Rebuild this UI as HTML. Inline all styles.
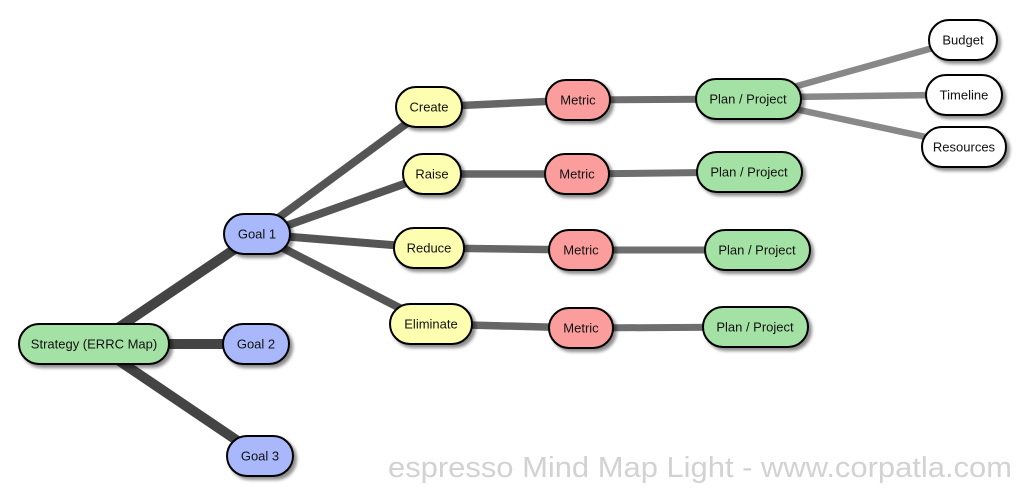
<!DOCTYPE html>
<html><head><meta charset="utf-8"><style>
html,body{margin:0;padding:0;background:#fff;width:1024px;height:497px;overflow:hidden}
svg text{font-family:"Liberation Sans",sans-serif;font-size:13px;fill:#111;text-anchor:middle;dominant-baseline:central}
</style></head><body>
<svg width="1024" height="497" xmlns="http://www.w3.org/2000/svg">
<defs><filter id="sh" x="-20%" y="-30%" width="150%" height="180%"><feDropShadow dx="3" dy="3" stdDeviation="1.5" flood-color="#000" flood-opacity="0.45"/></filter></defs>
<g stroke-linecap="butt" fill="none">
<line x1="115" y1="330" x2="257" y2="234" stroke="#444" stroke-width="10"/>
<line x1="140" y1="344" x2="256" y2="344" stroke="#444" stroke-width="10"/>
<line x1="115" y1="358" x2="260" y2="456" stroke="#444" stroke-width="10"/>
<line x1="270" y1="224" x2="429" y2="107" stroke="#555" stroke-width="8"/>
<line x1="280" y1="228" x2="432" y2="174" stroke="#555" stroke-width="8"/>
<line x1="280" y1="236" x2="429" y2="248" stroke="#555" stroke-width="8"/>
<line x1="275" y1="244" x2="431" y2="324" stroke="#555" stroke-width="8"/>
<line x1="429" y1="107" x2="578" y2="100" stroke="#666" stroke-width="7.5"/>
<line x1="432" y1="174" x2="577" y2="174" stroke="#666" stroke-width="7.5"/>
<line x1="429" y1="248" x2="581" y2="250" stroke="#666" stroke-width="7.5"/>
<line x1="431" y1="324" x2="581" y2="328" stroke="#666" stroke-width="7.5"/>
<line x1="578" y1="100" x2="748" y2="99" stroke="#6e6e6e" stroke-width="7"/>
<line x1="577" y1="174" x2="749" y2="172" stroke="#6e6e6e" stroke-width="7"/>
<line x1="581" y1="250" x2="757" y2="250" stroke="#6e6e6e" stroke-width="7"/>
<line x1="581" y1="328" x2="755" y2="327" stroke="#6e6e6e" stroke-width="7"/>
<line x1="790" y1="88" x2="940" y2="46" stroke="#888" stroke-width="6.5"/>
<line x1="790" y1="97" x2="940" y2="95" stroke="#888" stroke-width="6.5"/>
<line x1="790" y1="108" x2="940" y2="140" stroke="#888" stroke-width="6.5"/>
</g>
<g stroke="#000" stroke-width="2" filter="url(#sh)">
<rect x="19" y="324" width="150" height="40" rx="20" fill="#a4e1a4"/>
<rect x="224" y="214" width="66" height="40" rx="20" fill="#a8b8fa"/>
<rect x="223" y="324" width="66" height="40" rx="20" fill="#a8b8fa"/>
<rect x="227" y="436" width="66" height="40" rx="20" fill="#a8b8fa"/>
<rect x="396" y="87" width="66" height="40" rx="20" fill="#fefeb0"/>
<rect x="403" y="154" width="58" height="40" rx="20" fill="#fefeb0"/>
<rect x="394" y="228" width="70" height="40" rx="20" fill="#fefeb0"/>
<rect x="390" y="304" width="82" height="40" rx="20" fill="#fefeb0"/>
<rect x="546" y="80" width="64" height="40" rx="20" fill="#fc9d9d"/>
<rect x="545" y="154" width="64" height="40" rx="20" fill="#fc9d9d"/>
<rect x="549" y="230" width="64" height="40" rx="20" fill="#fc9d9d"/>
<rect x="549" y="308" width="64" height="40" rx="20" fill="#fc9d9d"/>
<rect x="696" y="79" width="105" height="40" rx="20" fill="#a4e1a4"/>
<rect x="697" y="152" width="105" height="40" rx="20" fill="#a4e1a4"/>
<rect x="705" y="230" width="105" height="40" rx="20" fill="#a4e1a4"/>
<rect x="703" y="307" width="105" height="40" rx="20" fill="#a4e1a4"/>
<rect x="929" y="20" width="68" height="40" rx="20" fill="#fff"/>
<rect x="926" y="75" width="76" height="40" rx="20" fill="#fff"/>
<rect x="922" y="127" width="84" height="40" rx="20" fill="#fff"/>
</g>
<text x="94" y="344">Strategy (ERRC Map)</text>
<text x="257" y="234">Goal 1</text>
<text x="256" y="344">Goal 2</text>
<text x="260" y="456">Goal 3</text>
<text x="429" y="107">Create</text>
<text x="432" y="174">Raise</text>
<text x="429" y="248">Reduce</text>
<text x="431" y="324">Eliminate</text>
<text x="578" y="100">Metric</text>
<text x="577" y="174">Metric</text>
<text x="581" y="250">Metric</text>
<text x="581" y="328">Metric</text>
<text x="748" y="99">Plan / Project</text>
<text x="749" y="172">Plan / Project</text>
<text x="757" y="250">Plan / Project</text>
<text x="755" y="327">Plan / Project</text>
<text x="963" y="40">Budget</text>
<text x="964" y="95">Timeline</text>
<text x="964" y="147">Resources</text>
<text x="388" y="468" textLength="624" lengthAdjust="spacingAndGlyphs" style="font-size:29px;fill:#d2d2d2;text-anchor:start">espresso Mind Map Light - www.corpatla.com</text>
</svg>
</body></html>
